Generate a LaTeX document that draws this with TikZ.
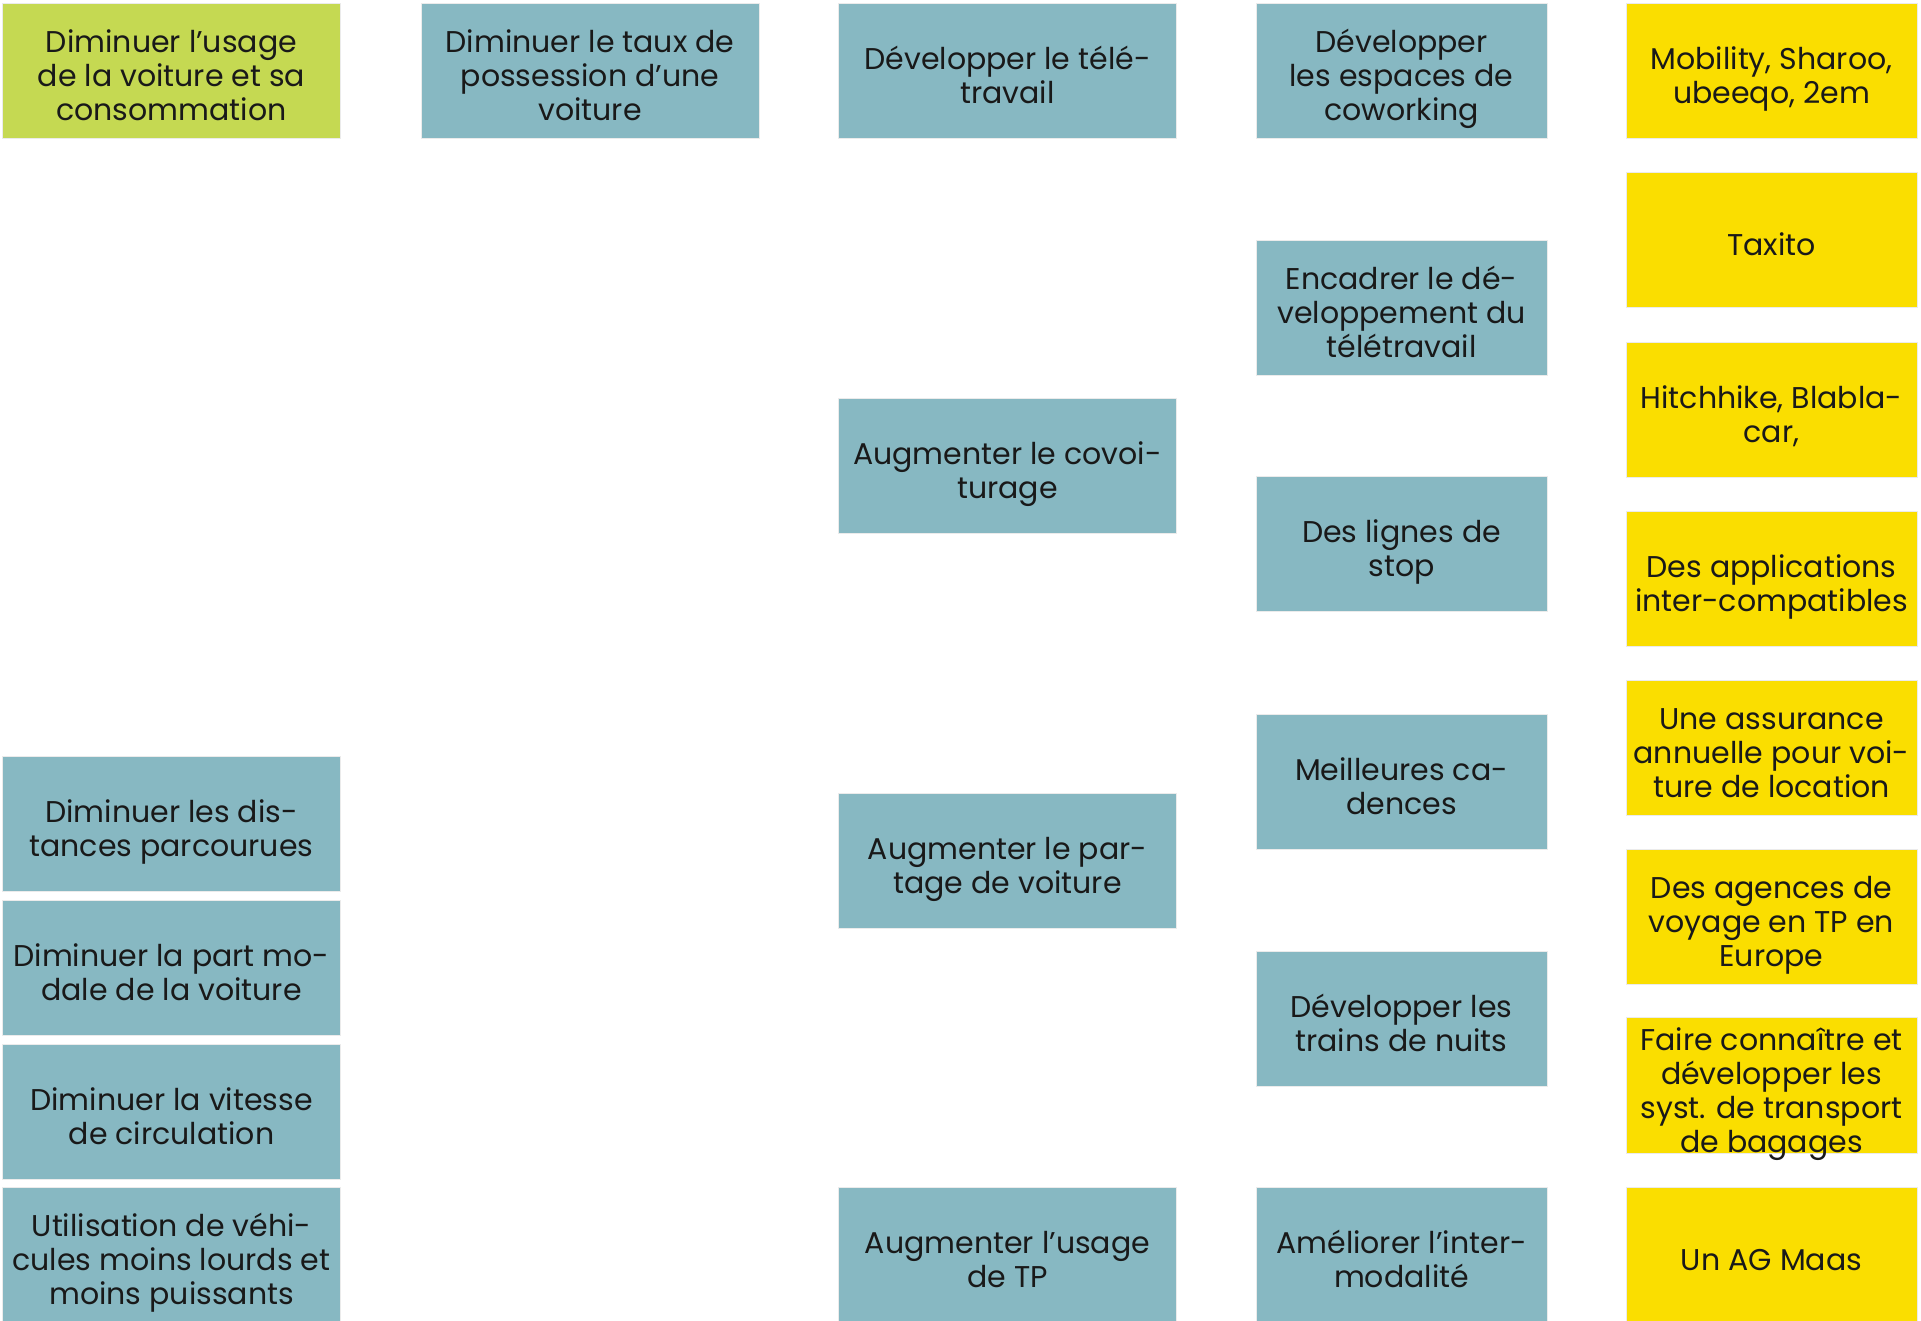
\documentclass[tikz,border=0pt]{standalone}
\usepackage{fontspec}
\setmainfont{Poppins}
\definecolor{cgreen}{RGB}{197,217,82}
\definecolor{cteal}{RGB}{135,184,194}
\definecolor{cyell}{RGB}{250,222,0}
\newcommand\bt[1]{\raisebox{-9pt}[\height][\depth]{\begin{tabular}{@{}c@{}}#1\end{tabular}}}
\tikzset{
  box/.style={rectangle, inner sep=0pt, draw=white!92!black, line width=0.8pt,
    font=\fontsize{30}{34}\selectfont, text=black!90},
  wbox/.style={box, minimum width=338pt, minimum height=135pt},
  nbox/.style={box, minimum width=291pt, minimum height=135pt},
  gbox/.style={wbox, fill=cgreen},
  tbox/.style={wbox, fill=cteal},
  tnbox/.style={nbox, fill=cteal},
  ybox/.style={nbox, fill=cyell},
}
\begin{document}
\begin{tikzpicture}[x=1pt,y=-1pt]
\useasboundingbox (0,0) rectangle (1921,1321);
\clip (0,0) rectangle (1921,1321);
% column 1
\node[gbox] (a1) at (171.5,71) {\bt{Diminuer l'usage\\de la voiture et sa\\consommation}};
\node[tbox] (a2) at (171.5,823.5) {\bt{Diminuer les dis-\\tances parcourues}};
\node[tbox] (a3) at (171.5,967.5) {\bt{Diminuer la part mo-\\dale de la voiture}};
\node[tbox] (a4) at (171.5,1111.5) {\bt{Diminuer la vitesse\\de circulation}};
\node[tbox] (a5) at (171.5,1255) {\bt{Utilisation de véhi-\\cules moins lourds et\\moins puissants}};
% column 2
\node[tbox] (b1) at (590,71) {\bt{Diminuer le taux de\\possession d'une\\voiture}};
% column 3
\node[tbox] (c1) at (1007.5,71) {\bt{Développer le télé-\\travail}};
\node[tbox] (c2) at (1007.5,465.5) {\bt{Augmenter le covoi-\\turage}};
\node[tbox] (c3) at (1007.5,861) {\bt{Augmenter le par-\\tage de voiture}};
\node[tbox] (c4) at (1007.5,1255) {\bt{Augmenter l'usage\\de TP}};
% column 4
\node[tnbox] (d1) at (1401.5,71) {\bt{Développer\\les espaces de\\coworking}};
\node[tnbox] (d2) at (1401.5,307.5) {\bt{Encadrer le dé-\\veloppement du\\télétravail}};
\node[tnbox] (d3) at (1401.5,544) {\bt{Des lignes de\\stop}};
\node[tnbox] (d4) at (1401.5,781.5) {\bt{Meilleures ca-\\dences}};
\node[tnbox] (d5) at (1401.5,1019) {\bt{Développer les\\trains de nuits}};
\node[tnbox] (d6) at (1401.5,1255) {\bt{Améliorer l'inter-\\modalité}};
% column 5
\node[ybox] (e1) at (1771.5,71) {\bt{Mobility, Sharoo,\\ubeeqo, 2em}};
\node[ybox] (e2) at (1771.5,240) {\bt{Taxito}};
\node[ybox] (e3) at (1771.5,409.5) {\bt{Hitchhike, Blabla-\\car,}};
\node[ybox] (e4) at (1771.5,578.5) {\bt{Des applications\\inter-compatibles}};
\node[ybox] (e5) at (1771.5,747.5) {\bt{Une assurance\\annuelle pour voi-\\ture de location}};
\node[ybox] (e6) at (1771.5,916.5) {\bt{Des agences de\\voyage en TP en\\Europe}};
\node[ybox] (e7) at (1771.5,1085.5) {\bt{Faire connaître et\\développer les\\syst. de transport\\de bagages}};
\node[ybox] (e8) at (1771.5,1255) {\bt{Un AG Maas}};
\end{tikzpicture}
\end{document}
